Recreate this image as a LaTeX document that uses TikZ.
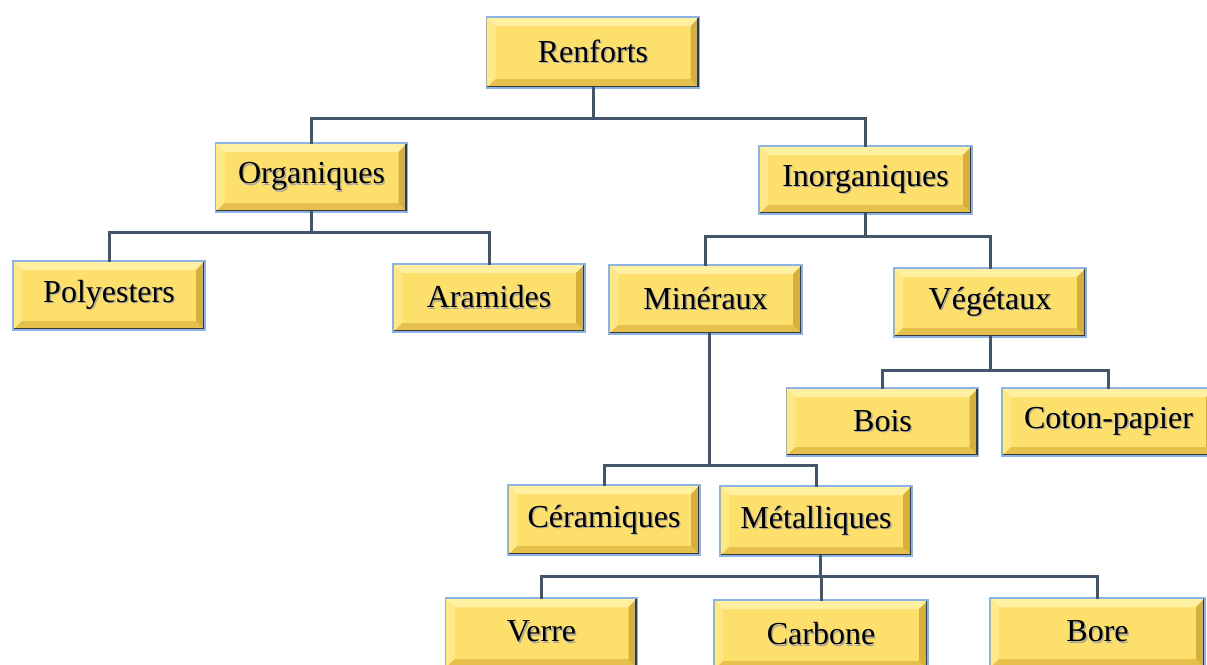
\documentclass[tikz,border=0pt]{standalone}
\usepackage{fontspec}
\setmainfont{Liberation Serif}
\definecolor{byel}{HTML}{FDDF6C}
\definecolor{btop}{HTML}{FFF0A2}
\definecolor{bleft}{HTML}{FEE888}
\definecolor{bbot}{HTML}{E6C04C}
\definecolor{bright}{HTML}{D6B03C}
\definecolor{bblue}{HTML}{8DB3E2}
\definecolor{bshadow}{HTML}{3A3A3A}
\definecolor{conncol}{HTML}{44546A}
\newcommand\shtext[1]{\raisebox{3pt}{\makebox[0pt][l]{\raisebox{-1.4pt}{\hspace{1.4pt}\textcolor{black!35}{#1}}}#1}}
\tikzset{
  boxnode/.style={minimum width=192pt, minimum height=69pt, inner sep=0pt,
    fill=byel, draw=bblue, line width=1.2pt,
    font=\fontsize{32}{34}\selectfont,
    path picture={
      \coordinate (pnw) at (path picture bounding box.north west);
      \coordinate (pne) at (path picture bounding box.north east);
      \coordinate (psw) at (path picture bounding box.south west);
      \coordinate (pse) at (path picture bounding box.south east);
      \fill[btop] (pnw) -- (pne) -- ([xshift=-9pt,yshift=-9pt]pne) -- ([xshift=9pt,yshift=-9pt]pnw) -- cycle;
      \fill[bleft] (pnw) -- (psw) -- ([xshift=9pt,yshift=9pt]psw) -- ([xshift=9pt,yshift=-9pt]pnw) -- cycle;
      \fill[bbot] (psw) -- (pse) -- ([xshift=-9pt,yshift=9pt]pse) -- ([xshift=9pt,yshift=9pt]psw) -- cycle;
      \fill[bright] (pne) -- (pse) -- ([xshift=-9pt,yshift=9pt]pse) -- ([xshift=-9pt,yshift=-9pt]pne) -- cycle;
      \draw[bshadow, line width=5pt] (pne) -- (pse) -- (psw);
    }},
  widebox/.style={minimum width=213pt},
  conn/.style={draw=conncol, line width=3pt, line cap=rect}
}
\begin{document}
\begin{tikzpicture}[x=1pt,y=-1pt]
\clip (0,0) rectangle (1207,664);
\fill[white] (0,0) rectangle (1207,664);
\node[boxnode,widebox,minimum height=71pt] (ren) at (593,52.5) {\shtext{Renforts}};
\node[boxnode] (org) at (311.5,177.5) {\shtext{Organiques}};
\node[boxnode,widebox,minimum height=68pt] (inorg) at (865.5,180) {\shtext{Inorganiques}};
\node[boxnode] (poly) at (109,295.5) {\shtext{Polyesters}};
\node[boxnode,minimum height=68pt] (ara) at (489,298) {\shtext{Aramides}};
\node[boxnode,minimum width=193pt] (min) at (705.5,299.5) {\shtext{Minéraux}};
\node[boxnode] (veg) at (990,302.5) {\shtext{Végétaux}};
\node[boxnode,minimum height=68pt] (bois) at (882.5,422) {\shtext{Bois}};
\node[boxnode,widebox,minimum height=68pt] (coton) at (1108.5,422) {\shtext{Coton-papier}};
\node[boxnode,minimum height=70pt] (cer) at (604,520) {\shtext{Céramiques}};
\node[boxnode,minimum height=70pt] (met) at (816,521) {\shtext{Métalliques}};
\node[boxnode,minimum height=70pt] (verre) at (541.5,633) {\shtext{Verre}};
\node[boxnode,widebox,minimum width=214pt,minimum height=70pt] (carb) at (821,635) {\shtext{Carbone}};
\node[boxnode,widebox,minimum width=215pt,minimum height=70pt] (bore) at (1097.5,633) {\shtext{Bore}};
\draw[conn] (ren.south) -- ++(0,30) -| (org.north);
\draw[conn] (ren.south) -- ++(0,30) -| (inorg.north);
\draw[conn] (org.south) -- ++(0,20) -| (poly.north);
\draw[conn] (org.south) -- ++(0,20) -| (ara.north);
\draw[conn] (inorg.south) -- ++(0,22) -| (min.north);
\draw[conn] (inorg.south) -- ++(0,22) -| (veg.north);
\draw[conn] (veg.south) -- ++(0,33) -| (bois.north);
\draw[conn] (veg.south) -- ++(0,33) -| (coton.north);
\draw[conn] ([xshift=4pt]min.south) -- ++(0,131) -| (cer.north);
\draw[conn] ([xshift=4pt]min.south) -- ++(0,131) -| (met.north);
\draw[conn] ([xshift=4pt]met.south) -- ++(0,20) -| (verre.north);
\draw[conn] ([xshift=4pt]met.south) -- ++(0,20) -| (carb.north);
\draw[conn] ([xshift=4pt]met.south) -- ++(0,20) -| (bore.north);
\end{tikzpicture}
\end{document}
